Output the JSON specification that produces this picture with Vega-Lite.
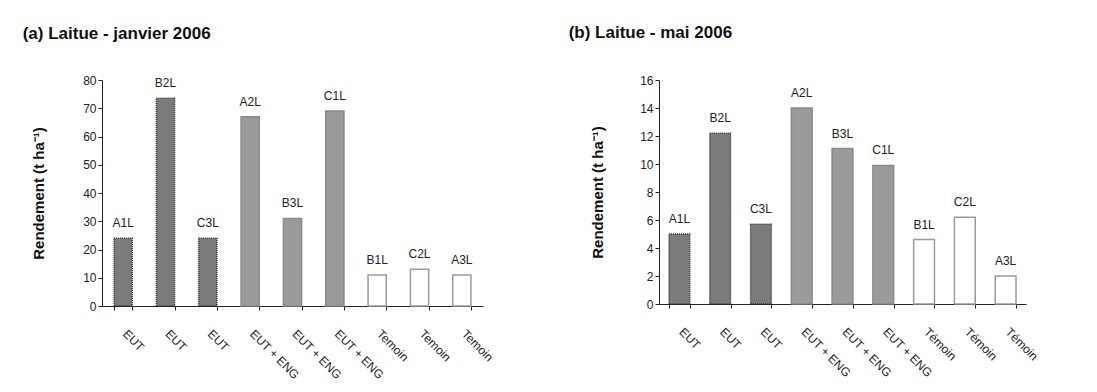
{
  "$schema": "https://vega.github.io/schema/vega-lite/v6.json",
  "padding": {"left": 22, "top": 24, "right": 5, "bottom": 5},
  "background": "white",
  "config": {
    "font": "Liberation Sans",
    "view": {"stroke": null},
    "axis": {"labelFont": "Liberation Sans", "titleFont": "Liberation Sans", "labelColor": "#222", "titleColor": "#111", "domainColor": "#222", "tickColor": "#222", "grid": false, "labelFontSize": 12, "tickSize": 4},
    "title": {"font": "Liberation Sans", "fontSize": 17, "fontWeight": "bold", "color": "#111", "anchor": "start", "frame": "bounds"}
  },
  "datasets": {
    "a": [
      {"code": "A1L", "type": "EUT", "label": "EUT", "value": 24},
      {"code": "B2L", "type": "EUT", "label": "EUT", "value": 73.5},
      {"code": "C3L", "type": "EUT", "label": "EUT", "value": 24},
      {"code": "A2L", "type": "EUT + ENG", "label": "EUT + ENG", "value": 67},
      {"code": "B3L", "type": "EUT + ENG", "label": "EUT + ENG", "value": 31},
      {"code": "C1L", "type": "EUT + ENG", "label": "EUT + ENG", "value": 69},
      {"code": "B1L", "type": "Témoin", "label": "Temoin", "value": 11},
      {"code": "C2L", "type": "Témoin", "label": "Temoin", "value": 13},
      {"code": "A3L", "type": "Témoin", "label": "Temoin", "value": 11}
    ],
    "b": [
      {"code": "A1L", "type": "EUT", "label": "EUT", "value": 5},
      {"code": "B2L", "type": "EUT", "label": "EUT", "value": 12.2},
      {"code": "C3L", "type": "EUT", "label": "EUT", "value": 5.7},
      {"code": "A2L", "type": "EUT + ENG", "label": "EUT + ENG", "value": 14},
      {"code": "B3L", "type": "EUT + ENG", "label": "EUT + ENG", "value": 11.1},
      {"code": "C1L", "type": "EUT + ENG", "label": "EUT + ENG", "value": 9.9},
      {"code": "B1L", "type": "Témoin", "label": "Témoin", "value": 4.6},
      {"code": "C2L", "type": "Témoin", "label": "Témoin", "value": 6.2},
      {"code": "A3L", "type": "Témoin", "label": "Témoin", "value": 2}
    ]
  },
  "hconcat": [
    {
      "data": {"name": "a"},
      "width": 381,
      "height": 226,
      "title": {"text": "(a) Laitue - janvier 2006", "offset": 31, "dx": -9},
      "encoding": {
        "x": {"field": "code", "type": "nominal", "sort": null,
          "scale": {"paddingInner": 0.57, "paddingOuter": 0.285},
          "axis": {"title": null, "labelAngle": 45, "tickBand": "extent", "labelPadding": 18, "labelOffset": 5,
            "labelExpr": "indexof(['A1L','B2L','C3L'], datum.label) >= 0 ? 'EUT' : (indexof(['A2L','B3L','C1L'], datum.label) >= 0 ? 'EUT + ENG' : (indexof(['B1L','C2L','A3L'], datum.label) >= 0 ? 'Temoin' : ''))"}},
        "y": {"field": "value", "type": "quantitative",
          "scale": {"domain": [0, 80]},
          "axis": {"title": "Rendement (t ha⁻¹)", "titleFontSize": 15, "titleFontWeight": "bold", "values": [0,10,20,30,40,50,60,70,80], "titlePadding": 36}}
      },
      "layer": [
        {"mark": {"type": "bar", "strokeWidth": 1.5},
          "encoding": {
            "fill": {"field": "type", "type": "nominal", "legend": null, "scale": {"domain": ["EUT", "EUT + ENG", "Témoin"], "range": ["#7b7b7b", "#9a9a9a", "#ffffff"]}},
            "stroke": {"field": "type", "type": "nominal", "legend": null, "scale": {"domain": ["EUT", "EUT + ENG", "Témoin"], "range": ["#333333", "#8a8a8a", "#9a9a9a"]}},
            "strokeDash": {"field": "type", "type": "nominal", "legend": null, "scale": {"domain": ["EUT", "EUT + ENG", "Témoin"], "range": [[1, 1], [1, 0], [1, 0]]}}
          }},
        {"mark": {"type": "text", "baseline": "bottom", "dy": -8, "fontSize": 12, "color": "#222"},
          "encoding": {"text": {"field": "code"}}}
      ]
    },
    {
      "data": {"name": "b"},
      "width": 367,
      "height": 224,
      "title": {"text": "(b) Laitue - mai 2006", "offset": 32, "dx": -22},
      "encoding": {
        "x": {"field": "code", "type": "nominal", "sort": null,
          "scale": {"paddingInner": 0.49, "paddingOuter": 0.245},
          "axis": {"title": null, "labelAngle": 45, "tickBand": "extent", "labelPadding": 18, "labelOffset": 5,
            "labelExpr": "indexof(['A1L','B2L','C3L'], datum.label) >= 0 ? 'EUT' : (indexof(['A2L','B3L','C1L'], datum.label) >= 0 ? 'EUT + ENG' : (indexof(['B1L','C2L','A3L'], datum.label) >= 0 ? 'Témoin' : ''))"}},
        "y": {"field": "value", "type": "quantitative",
          "scale": {"domain": [0, 16]},
          "axis": {"title": "Rendement (t ha⁻¹)", "titleFontSize": 15, "titleFontWeight": "bold", "values": [0,2,4,6,8,10,12,14,16], "titlePadding": 34}}
      },
      "layer": [
        {"mark": {"type": "bar", "strokeWidth": 1.5},
          "encoding": {
            "fill": {"field": "type", "type": "nominal", "legend": null, "scale": {"domain": ["EUT", "EUT + ENG", "Témoin"], "range": ["#7b7b7b", "#8e8e8e", "#ffffff"]}},
            "stroke": {"field": "type", "type": "nominal", "legend": null, "scale": {"domain": ["EUT", "EUT + ENG", "Témoin"], "range": ["#333333", "#8a8a8a", "#555555"]}},
            "strokeDash": {"field": "type", "type": "nominal", "legend": null, "scale": {"domain": ["EUT", "EUT + ENG", "Témoin"], "range": [[1, 1], [1, 0], [1, 0]]}}
          }},
        {"mark": {"type": "text", "baseline": "bottom", "dy": -8, "fontSize": 12, "color": "#222"},
          "encoding": {"text": {"field": "code"}}}
      ]
    }
  ],
  "spacing": 73
}
